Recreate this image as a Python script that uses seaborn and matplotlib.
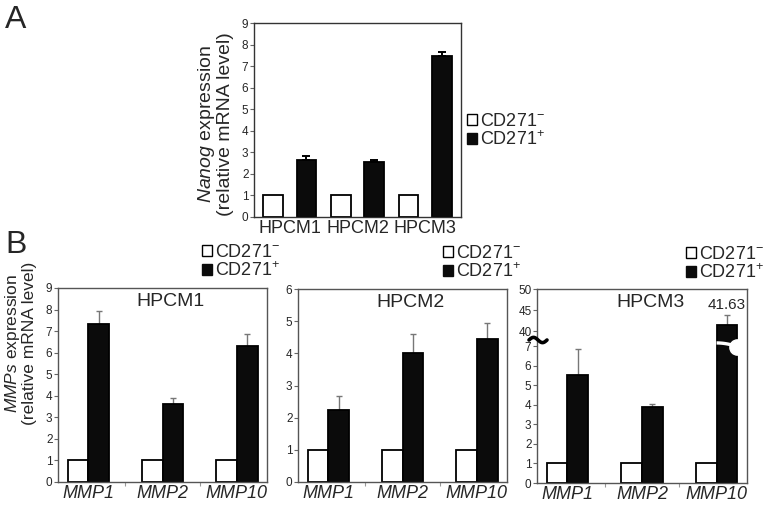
import numpy as np
import pandas as pd
import matplotlib
matplotlib.use('Agg')
import matplotlib.pyplot as plt
import seaborn as sns
from matplotlib.patches import Patch
from matplotlib.transforms import blended_transform_factory

# values
cell_lines = ['HPCM1', 'HPCM2', 'HPCM3']
nanog_neg = [1.0, 1.0, 1.0]
nanog_pos = [2.65, 2.56, 7.49]
nanog_pos_err = [0.16, 0.09, 0.15]

mmp_genes = ['MMP1', 'MMP2', 'MMP10']
hpcm1_neg = [1.0, 1.0, 1.0]
hpcm1_pos = [7.34, 3.62, 6.32]
hpcm1_err = [0.60, 0.28, 0.53]
hpcm2_neg = [1.0, 1.0, 1.0]
hpcm2_pos = [2.23, 4.00, 4.46]
hpcm2_err = [0.45, 0.59, 0.47]
hpcm3_neg = [1.0, 1.0, 1.0]
hpcm3_pos = [5.51, 3.91, 41.63]
hpcm3_err = [1.35, 0.13, 2.2]

hpcm3_ticks = [0, 1, 2, 3, 4, 5, 6, 7, 40, 45, 50]

W, H = 767, 505
BLACK = '#0b0b0b'

sns.set_style('white')
plt.rcParams['font.family'] = ['Liberation Sans', 'DejaVu Sans']
plt.rcParams['mathtext.fontset'] = 'custom'
plt.rcParams['mathtext.rm'] = 'Liberation Sans'
plt.rcParams['mathtext.it'] = 'Liberation Sans:italic'


def px_axes(fig, left, top, right, bottom):
    return fig.add_axes([left / W, 1 - bottom / H, (right - left) / W, (bottom - top) / H])


def make_df(cats, neg, pos):
    return pd.DataFrame({
        'cat': list(cats) * 2,
        'group': ['neg'] * len(cats) + ['pos'] * len(cats),
        'value': list(neg) + list(pos),
    })


def draw_bars(ax, cats, neg, pos, err, width, gap, ecolor, elw, cap):
    df = make_df(cats, neg, pos)
    sns.barplot(data=df, x='cat', y='value', hue='group',
                palette={'neg': 'white', 'pos': BLACK},
                edgecolor='black', linewidth=1.3, width=width, gap=gap,
                errorbar=None, legend=False, ax=ax)
    bars = ax.containers[1]
    xs = [b.get_x() + b.get_width() / 2 for b in bars]
    ax.errorbar(xs, pos, yerr=[np.zeros(len(err)), err], fmt='none',
                ecolor=ecolor, elinewidth=elw, capsize=cap, capthick=elw,
                zorder=1)
    for b in bars:
        b.set_zorder(2)
    ax.set_xlabel('')
    ax.set_ylabel('')
    for s in ax.spines.values():
        s.set_visible(True)
        s.set_color('#555555')
        s.set_linewidth(1.0)
    ax.tick_params(axis='y', left=True, length=3, width=0.8, color='#666666',
                   pad=1, labelsize=8.5)
    ax.tick_params(axis='x', length=0, pad=2, labelsize=13)
    return bars


def add_legend(ax, right_px, bottom_px, loc='lower right'):
    handles = [Patch(facecolor='white', edgecolor='black', linewidth=1.0),
               Patch(facecolor=BLACK, edgecolor=BLACK)]
    labels = ['CD271$^{-}$', 'CD271$^{+}$']
    ax.legend(handles, labels, loc=loc,
              bbox_to_anchor=(right_px / W, 1 - bottom_px / H),
              bbox_transform=ax.figure.transFigure, frameon=False,
              fontsize=13, handlelength=0.55, handleheight=0.55,
              handletextpad=0.15, labelspacing=0.0, borderpad=0,
              borderaxespad=0)


fig = plt.figure(figsize=(W / 100, H / 100), dpi=100)

# ---- panel A ----
axA = px_axes(fig, 254, 23, 461, 217)
draw_bars(axA, cell_lines, nanog_neg, nanog_pos, nanog_pos_err,
          width=0.98, gap=0.41, ecolor='black', elw=1.4, cap=3)
axA.set_ylim(0, 9)
axA.set_yticks(range(0, 10))
for s in axA.spines.values():
    s.set_color('#333333')
add_legend(axA, 467, 131, loc='center left')
fig.text(215 / W, 1 - 124 / H, '$\\mathit{Nanog}$ expression\n(relative mRNA level)',
         rotation=90, ha='center', va='center', fontsize=14, linespacing=1.0,
         multialignment='center')

# ---- panel B ----
panels = [
    (58, 288, 267, 482, 'HPCM1', hpcm1_neg, hpcm1_pos, hpcm1_err, 280, 280),
    (298, 289, 507, 482, 'HPCM2', hpcm2_neg, hpcm2_pos, hpcm2_err, 521, 281),
    (537, 289, 747, 483, 'HPCM3', hpcm3_neg, hpcm3_pos, hpcm3_err, 764, 282),
]

axes_b = []
for left, top, right, bottom, title, neg, pos, err, lx, ly in panels:
    ax = px_axes(fig, left, top, right, bottom)
    draw_bars(ax, mmp_genes, neg, pos, err, width=0.56, gap=0,
              ecolor='#777777', elw=1.0, cap=2)
    for lab in ax.get_xticklabels():
        lab.set_fontstyle('italic')
    ax.set_xticks([0.5, 1.5], minor=True)
    ax.tick_params(axis='x', which='minor', bottom=True, length=3,
                   width=0.8, color='#999999')
    ax.text(0.54, 0.93, title, transform=ax.transAxes, ha='center',
            va='center', fontsize=14)
    add_legend(ax, lx, ly)
    axes_b.append(ax)

axes_b[0].set_ylim(0, 9)
axes_b[0].set_yticks(range(0, 10))
axes_b[1].set_ylim(0, 6)
axes_b[1].set_yticks(range(0, 7))


# broken axis for HPCM3: 0-7 linear, squeezed gap, 40-50 compressed
def fwd(y):
    y = np.asarray(y, dtype=float)
    return np.where(y <= 7, y,
                    np.where(y < 40, 7 + (y - 7) * (0.76 / 33),
                             7.76 + (y - 40) * 0.2174))


def inv(m):
    m = np.asarray(m, dtype=float)
    return np.where(m <= 7, m,
                    np.where(m < 7.76, 7 + (m - 7) * (33 / 0.76),
                             40 + (m - 7.76) / 0.2174))


ax3 = axes_b[2]
ax3.set_yscale('function', functions=(fwd, inv))
ax3.set_ylim(0, 50)
ax3.set_yticks(hpcm3_ticks)
ax3.set_yticklabels([str(t) for t in hpcm3_ticks])
ax3.yaxis.set_minor_locator(matplotlib.ticker.NullLocator())

# break mark on the tall bar
tall = ax3.containers[1][2]
bx0 = tall.get_x()
bx1 = bx0 + tall.get_width()
tr = blended_transform_factory(ax3.transData, ax3.transAxes)
t = np.linspace(0, 1, 30)
ax3.plot(bx0 + t * (bx1 - bx0), 0.722 - 0.02 * t ** 2, color='white',
         lw=2.4, transform=tr, zorder=5, solid_capstyle='butt')
ax3.plot([bx1], [0.70], marker='o', ms=11, color='white', mec='white',
         transform=tr, zorder=5, clip_on=False)
ax3.text(bx0 + (bx1 - bx0) / 2, 0.918, '41.63', transform=tr, ha='center',
         va='center', fontsize=11)

# wavy break sign drawn on the y axis
s = np.linspace(0, 1, 40)
ax3.plot((529 + 18 * s) / W, 1 - (340 - 2.6 * np.sin(2 * np.pi * s)) / H,
         color='black', lw=2.6, transform=fig.transFigure, clip_on=False,
         zorder=6, solid_capstyle='round')

fig.text(20 / W, 1 - 343 / H, '$\\mathit{MMPs}$ expression\n(relative mRNA level)',
         rotation=90, ha='center', va='center', fontsize=12.5, linespacing=1.0,
         multialignment='center')

fig.text(5 / W, 1 - 5 / H, 'A', fontsize=23, ha='left', va='top')
fig.text(5 / W, 1 - 230 / H, 'B', fontsize=23, ha='left', va='top')

fig.savefig('out.png', dpi=100)
